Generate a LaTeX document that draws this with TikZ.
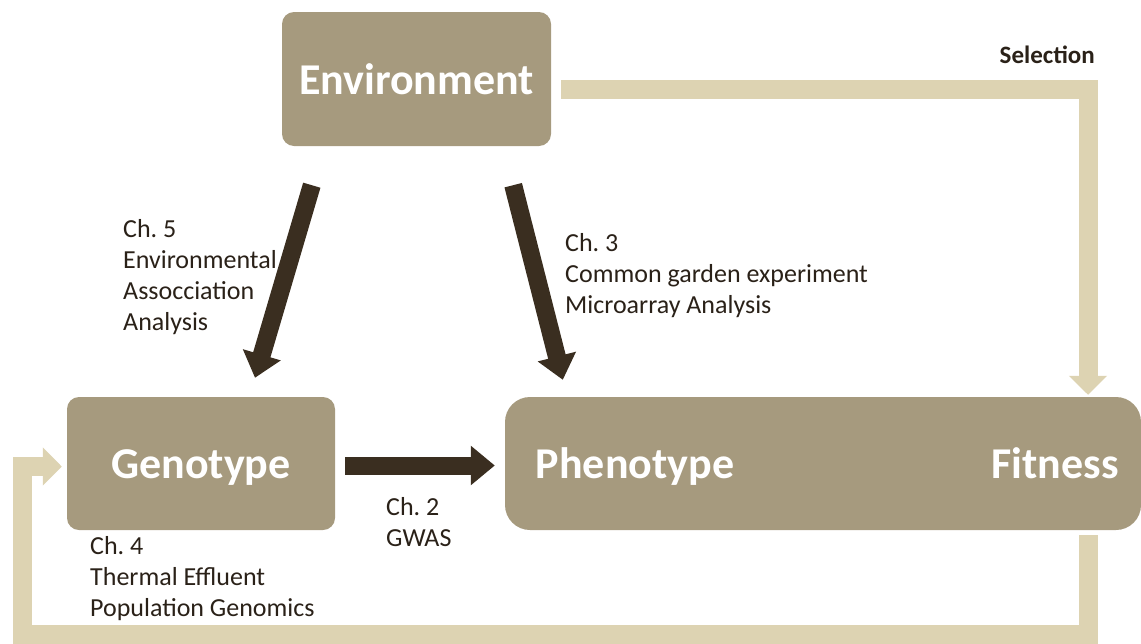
\documentclass[tikz,border=0pt]{standalone}
\usepackage{fontspec}
\setmainfont{Carlito}
\usepackage{tikz}
\usepackage{xcolor}
\usetikzlibrary{arrows.meta}

\definecolor{boxfill}{HTML}{A69A7E}
\definecolor{loopcol}{HTML}{DDD3B2}
\definecolor{darkarrow}{HTML}{3A2E20}
\definecolor{labeltext}{HTML}{2A2118}
\frenchspacing

\tikzset{
  bigbox/.style={fill=boxfill, rounded corners=12pt, inner sep=0pt, text=white,
    font=\fontsize{44}{52}\selectfont\bfseries},
  boxtitle/.style={anchor=base, inner sep=0pt, text=white,
    font=\fontsize{44}{52}\selectfont\bfseries},
  chlabel/.style={anchor=north west, align=left, inner sep=0pt, text=labeltext,
    font=\fontsize{26}{31}\selectfont},
  darkflow/.style={line width=18pt, draw=darkarrow, -{Triangle[length=24pt, width=38pt]}},
  loopflow/.style={line width=19pt, draw=loopcol, line join=miter, -{Triangle[length=19pt, width=37pt]}}
}

\begin{document}
\begin{tikzpicture}[x=1pt, y=-1pt]
      \useasboundingbox (0, 0) rectangle (1141, 643);
      % boxes
      \node[bigbox, minimum width=269pt, minimum height=134pt] (env) at (416.5, 79) {Environment};
      \node[bigbox, minimum width=268pt, minimum height=133pt] (geno) at (201, 463.5) {};
      \node[boxtitle] (genotitle) at (201, 478) {Genotype};
      \node[bigbox, rounded corners=25pt, minimum width=636pt, minimum height=133pt] (body) at (823, 463.5) {};
      \node[boxtitle] (pheno) at (635, 478) {Phenotype};
      \node[boxtitle] (fit) at (1055, 478) {Fitness};

      % dark arrows
      \draw[darkflow] ([xshift=30pt, yshift=-39pt]env.south west) -- ([xshift=54pt, yshift=19pt]geno.north);
      \draw[darkflow] ([xshift=-38pt, yshift=-39pt]env.south east) -- ([xshift=58pt, yshift=17pt]body.north west);
      \draw[darkflow, shorten <=10pt, shorten >=10pt] ([yshift=-2pt]geno.east) -- ([yshift=-2pt]geno.east -| body.west);

      % selection and feedback loop
      \coordinate (selturn) at (1088, 89);
      \coordinate (loopbr) at (1088, 634);
      \coordinate (loopbl) at (22, 634);
      \draw[loopflow, shorten >=2pt] ([xshift=10pt, yshift=-10pt]env.east) -- (selturn) -- (selturn |- body.north);
      \draw[loopflow, shorten <=5pt, shorten >=5pt] (loopbr |- body.south) -- (loopbr) -- (loopbl) |- ([yshift=-3pt]geno.west);

      % labels
      \node[anchor=base east, inner sep=0pt, text=labeltext, font=\fontsize{25}{30}\selectfont\bfseries] (sel) at (1095, 63) {Selection};
      \node[chlabel] (ch5) at (123, 219) {Ch. 5\\Environmental\\Assocciation\\Analysis};
      \node[chlabel] (ch3) at (565, 233) {Ch. 3\\Common garden experiment\\Microarray Analysis};
      \node[chlabel] (ch2) at (386, 497) {Ch. 2\\GWAS};
      \node[chlabel] (ch4) at (90, 536) {Ch. 4\\Thermal Effluent\\Population Genomics};
    \end{tikzpicture}
\end{document}
